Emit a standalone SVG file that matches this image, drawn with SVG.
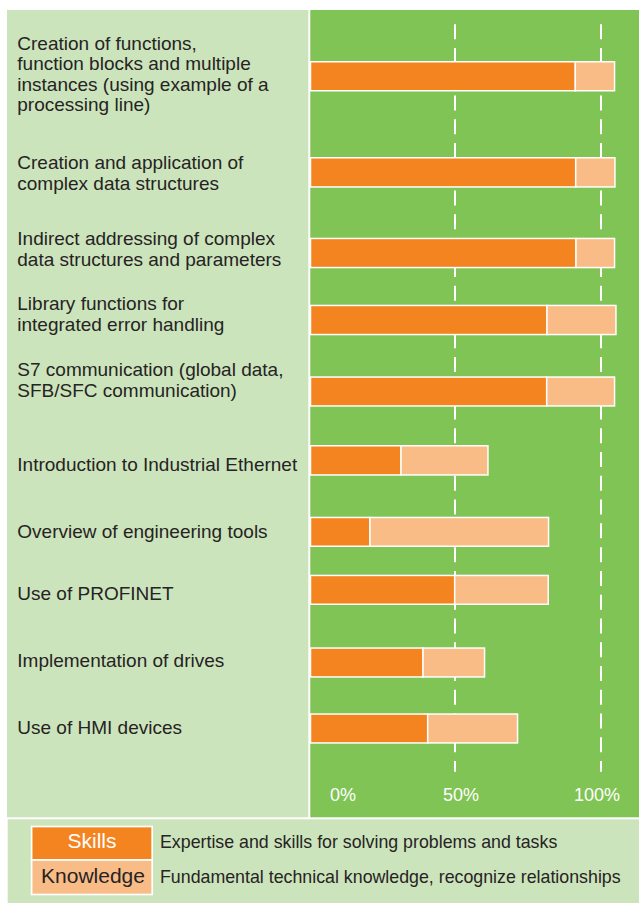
<svg xmlns="http://www.w3.org/2000/svg" width="639" height="903" viewBox="0 0 639 903">
  <style>
    .lbl { font-family: "Liberation Sans", Arial, sans-serif; font-size: 19px; fill: #262324; }
    .axis { font-family: "Liberation Sans", Arial, sans-serif; font-size: 18px; fill: #ffffff; text-anchor: middle; }
    .leg { font-family: "Liberation Sans", Arial, sans-serif; font-size: 17.8px; fill: #262324; }
    .skill { fill: #f48420; stroke: #ffffff; stroke-width: 1.5; }
    .know { fill: #f9bc86; stroke: #ffffff; stroke-width: 1.5; }
    .grid { stroke: #ffffff; stroke-width: 2; stroke-dasharray: 15 8.77; fill: none; }
  </style>
  <rect x="0" y="0" width="639" height="903" fill="#ffffff"/>
  <!-- panels -->
  <rect x="7" y="10" width="301.3" height="807.3" fill="#cce4bb"/>
  <rect x="310.3" y="10" width="328.7" height="807.3" fill="#7fc454"/>
  <rect x="7.7" y="819.3" width="631.3" height="83.7" fill="#cce4bb"/>

  <!-- gridlines -->
  <g id="grid">
    <line class="grid" x1="455" y1="24.2" x2="455" y2="771.7"/>
    <line class="grid" x1="601" y1="24.2" x2="601" y2="771.7"/>
  </g>

  <g id="item1">
    <text class="lbl" x="17.3" y="50">Creation of functions,</text>
    <text class="lbl" x="17.3" y="70.3">function blocks and multiple</text>
    <text class="lbl" x="17.3" y="90.7">instances (using example of a</text>
    <text class="lbl" x="17.3" y="111">processing line)</text>
    <rect class="skill" x="310.5" y="61.75" width="264.8" height="29"/>
    <rect class="know" x="575.3" y="61.75" width="39.25" height="29"/>
  </g>
  <g id="item2">
    <text class="lbl" x="17.3" y="169.3">Creation and application of</text>
    <text class="lbl" x="17.3" y="190">complex data structures</text>
    <rect class="skill" x="310.5" y="157.75" width="265.2" height="29.2"/>
    <rect class="know" x="575.7" y="157.75" width="39.25" height="29.2"/>
  </g>
  <g id="item3">
    <text class="lbl" x="17.3" y="245">Indirect addressing of complex</text>
    <text class="lbl" x="17.3" y="265.7">data structures and parameters</text>
    <rect class="skill" x="310.5" y="238.45" width="265.5" height="29.1"/>
    <rect class="know" x="576" y="238.45" width="38.55" height="29.1"/>
  </g>
  <g id="item4">
    <text class="lbl" x="17.3" y="310">Library functions for</text>
    <text class="lbl" x="17.3" y="331">integrated error handling</text>
    <rect class="skill" x="310.5" y="305.45" width="236.5" height="29.1"/>
    <rect class="know" x="547" y="305.45" width="68.95" height="29.1"/>
  </g>
  <g id="item5">
    <text class="lbl" x="17.3" y="376">S7 communication (global data,</text>
    <text class="lbl" x="17.3" y="396.7">SFB/SFC communication)</text>
    <rect class="skill" x="310.5" y="377.05" width="236.2" height="28.9"/>
    <rect class="know" x="546.7" y="377.05" width="67.85" height="28.9"/>
  </g>
  <g id="item6">
    <text class="lbl" x="17.3" y="470.7">Introduction to Industrial Ethernet</text>
    <rect class="skill" x="310.5" y="445.75" width="90.5" height="29.2"/>
    <rect class="know" x="401" y="445.75" width="86.95" height="29.2"/>
  </g>
  <g id="item7">
    <text class="lbl" x="17.3" y="538.3">Overview of engineering tools</text>
    <rect class="skill" x="310.5" y="517.45" width="59.5" height="28.8"/>
    <rect class="know" x="370" y="517.45" width="178.55" height="28.8"/>
  </g>
  <g id="item8">
    <text class="lbl" x="17.3" y="600">Use of PROFINET</text>
    <rect class="skill" x="310.5" y="575.45" width="144.2" height="28.8"/>
    <rect class="know" x="454.7" y="575.45" width="93.55" height="28.8"/>
  </g>
  <g id="item9">
    <text class="lbl" x="17.3" y="667.3">Implementation of drives</text>
    <rect class="skill" x="310.5" y="648.05" width="112.5" height="28.9"/>
    <rect class="know" x="423" y="648.05" width="61.55" height="28.9"/>
  </g>
  <g id="item10">
    <text class="lbl" x="17.3" y="734">Use of HMI devices</text>
    <rect class="skill" x="310.5" y="714.05" width="117.2" height="28.9"/>
    <rect class="know" x="427.7" y="714.05" width="89.85" height="28.9"/>
  </g>

  <g id="axis">
    <text class="axis" x="343" y="801">0%</text>
    <text class="axis" x="461" y="801">50%</text>
    <text class="axis" x="597" y="801">100%</text>
  </g>

  <g id="legend">
    <rect x="31.6" y="826.5" width="120.6" height="33.5" fill="#f48420" stroke="#ffffff" stroke-width="1.7"/>
    <rect x="31.6" y="860" width="120.6" height="34.5" fill="#f9bc86" stroke="#ffffff" stroke-width="1.7"/>
    <text x="92" y="847.7" font-family="Liberation Sans, Arial, sans-serif" font-size="21" fill="#ffffff" text-anchor="middle">Skills</text>
    <text x="93" y="882.7" font-family="Liberation Sans, Arial, sans-serif" font-size="21" fill="#262324" text-anchor="middle">Knowledge</text>
    <text class="leg" x="160" y="848.3">Expertise and skills for solving problems and tasks</text>
    <text class="leg" x="160" y="882.7">Fundamental technical knowledge, recognize relationships</text>
  </g>
</svg>
